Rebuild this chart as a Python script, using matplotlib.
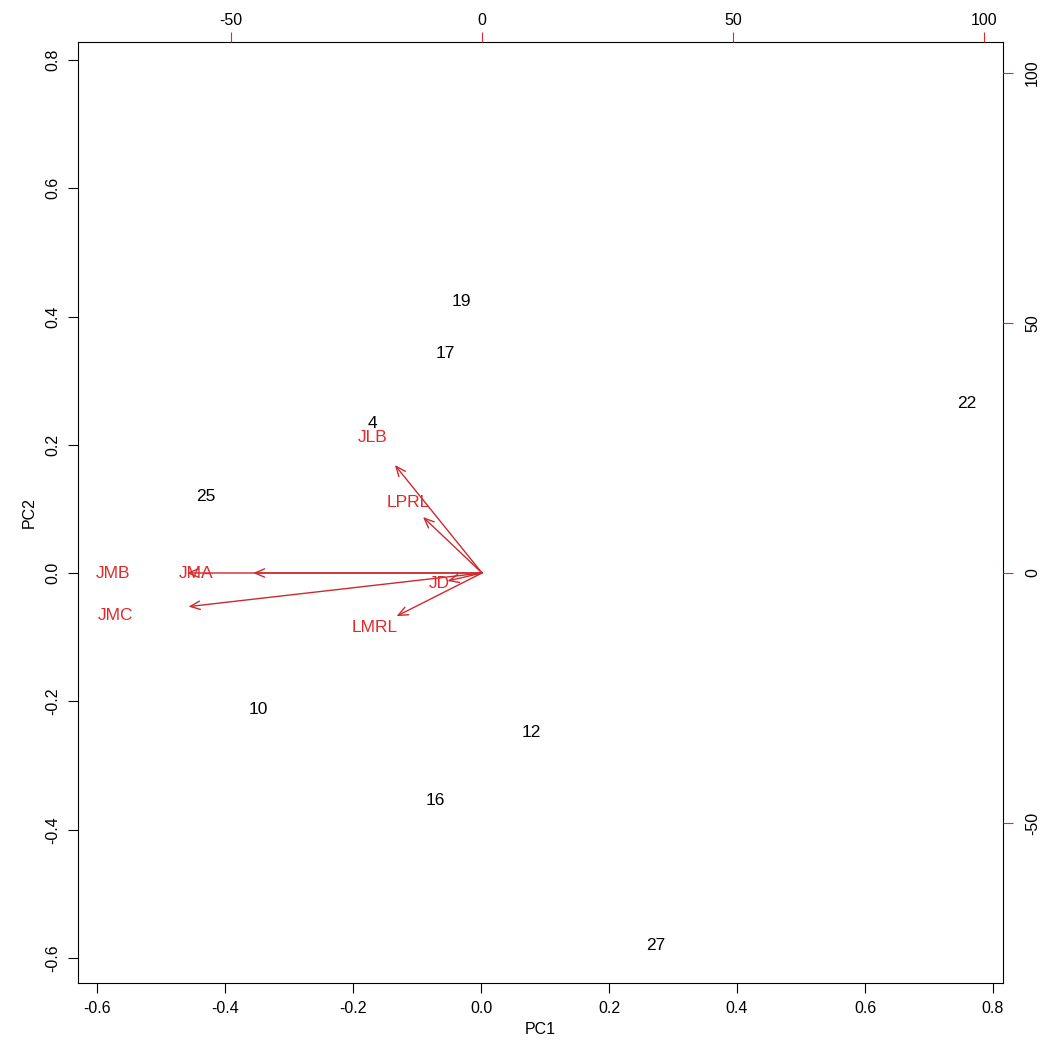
import matplotlib
matplotlib.use("Agg")
import matplotlib.pyplot as plt

plt.rcParams['font.family'] = ['Liberation Sans', 'DejaVu Sans']
plt.rcParams['axes.unicode_minus'] = False

# observation scores (PC1, PC2)
obs_labels = ['19', '17', '4', '25', '22', '10', '12', '16', '27']
obs_pc1 = [-0.031, -0.056, -0.170, -0.430, 0.759, -0.348, 0.078, -0.072, 0.273]
obs_pc2 = [0.423, 0.342, 0.234, 0.119, 0.265, -0.212, -0.248, -0.354, -0.580]

# variable loadings (label positions on the top/right scale)
var_labels = ['JMB', 'JMA', 'JMC', 'JLB', 'LPRL', 'JD', 'LMRL']
var_x = [-73.5, -57.0, -73.1, -21.7, -14.7, -8.6, -21.3]
var_y = [0.0, 0.0, -8.4, 27.0, 14.0, -2.0, -10.8]

red = '#e02a2a'
arrow_red = '#cc2a2e'
pos = [78 / 1047, 65 / 1048, 925 / 1047, 941 / 1048]

fig = plt.figure(figsize=(10.47, 10.48), dpi=100)
ax = fig.add_axes(pos)

for lab, x, y in zip(obs_labels, obs_pc1, obs_pc2):
    ax.text(x, y, lab, ha='center', va='center', fontsize=12.5, color='black')

ticks = [-0.6, -0.4, -0.2, 0.0, 0.2, 0.4, 0.6, 0.8]
ax.set_xlim(-0.6297, 0.8156)
ax.set_ylim(-0.639, 0.828)
ax.set_xticks(ticks)
ax.set_yticks(ticks)
ax.set_xticklabels([f"{v:.1f}" for v in ticks])
ax.set_yticklabels([f"{v:.1f}" for v in ticks], rotation=90, va='center')
ax.tick_params(direction='out', length=7, labelsize=11.5, pad=6)
ax.set_xlabel('PC1', fontsize=11.5, labelpad=4)
ax.set_ylabel('PC2', fontsize=11.5, labelpad=6)

# loadings axes: top and right scales
ax2 = fig.add_axes(pos, frameon=False)
ax2.patch.set_visible(False)
ax2.xaxis.tick_top()
ax2.yaxis.tick_right()
ax2.set_xlim(-80.5, 103.8)
ax2.set_ylim(-82.0, 106.2)
sec_ticks = [-50, 0, 50, 100]
ax2.set_xticks(sec_ticks)
ax2.set_yticks(sec_ticks)
ax2.set_xticklabels([str(v) for v in sec_ticks])
ax2.set_yticklabels([str(v) for v in sec_ticks], rotation=90, va='center')
ax2.tick_params(direction='out', length=7, labelsize=11.5, color=red)
ax2.tick_params(axis='x', pad=3)
ax2.tick_params(axis='y', pad=9)

for lab, x, y in zip(var_labels, var_x, var_y):
    ax2.annotate('', xy=(0.8 * x, 0.8 * y), xytext=(0, 0),
                 arrowprops=dict(arrowstyle='->,head_length=0.7,head_width=0.3',
                                 color=arrow_red, lw=1.0, shrinkA=0, shrinkB=0))
    ax2.text(x, y, lab, ha='center', va='center', fontsize=12.5, color=red)

fig.savefig('out.png', dpi=100)
